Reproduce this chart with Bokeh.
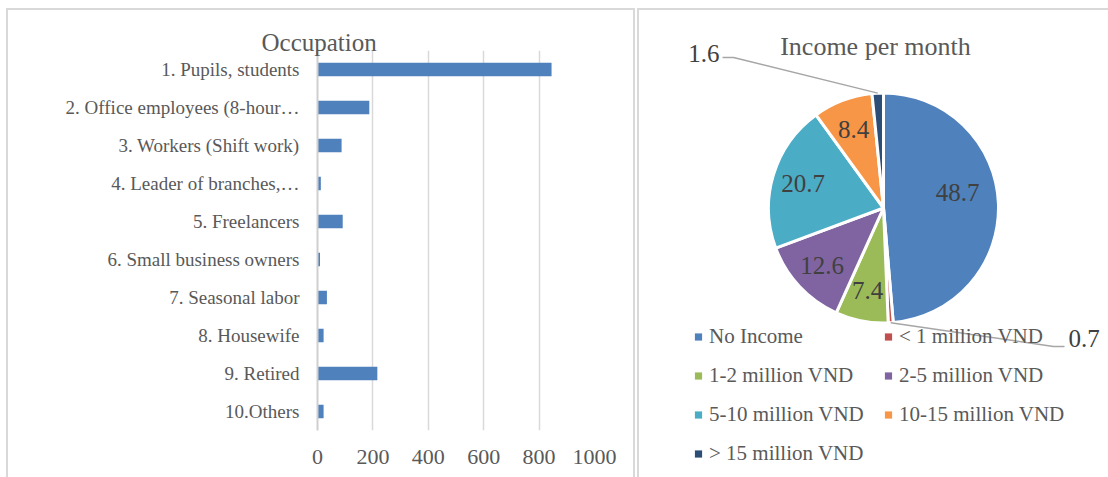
import math
from bokeh.plotting import figure
from bokeh.models import (Range1d, FactorRange, Label, FixedTicker,
                          Legend, LegendItem, ColumnDataSource)
from bokeh.layouts import row, column
from bokeh.embed import file_html
from bokeh.resources import INLINE

# ---------------- data ----------------
occupations = ["1. Pupils, students", "2. Office employees (8-hour\u2026",
               "3. Workers (Shift work)", "4. Leader of branches,\u2026",
               "5. Freelancers", "6. Small business owners", "7. Seasonal labor",
               "8. Housewife", "9. Retired", "10.Others"]
counts = [845, 187, 87, 12, 91, 9, 34, 22, 216, 22]
x_ticks = [0, 200, 400, 600, 800, 1000]

income_groups = ["No Income", "< 1 million VND", "1-2 million VND", "2-5 million VND",
                 "5-10 million VND", "10-15 million VND", "> 15 million VND"]
income_pct = [48.7, 0.7, 7.4, 12.6, 20.7, 8.4, 1.6]
income_colors = ["#4f81bd", "#c0504d", "#9bbb59", "#8064a2", "#4bacc6", "#f79646", "#2c4d75"]

FONT = "Liberation Serif"
TXT = "#595959"
BORDER = "#d9d9d9"

# ---------------- left panel: bar chart ----------------
p1 = figure(width=625, height=467, x_range=Range1d(0, 1000),
            y_range=FactorRange(factors=list(reversed(occupations))),
            output_backend="svg", toolbar_location=None,
            min_border_left=309, min_border_right=39, min_border_top=40, min_border_bottom=47)
p1.hbar(y=occupations, right=counts, height=0.36, fill_color="#4f81bd", line_color=None)
p1.outline_line_color = None
p1.ygrid.grid_line_color = None
p1.xgrid.grid_line_color = BORDER
p1.xgrid.grid_line_width = 1.5
p1.xaxis.ticker = FixedTicker(ticks=x_ticks)
p1.xgrid.ticker = FixedTicker(ticks=x_ticks)
p1.xaxis.axis_line_color = None
p1.xaxis.major_tick_line_color = None
p1.xaxis.minor_tick_line_color = None
p1.xaxis.major_label_standoff = 13
p1.xaxis.major_label_text_font = FONT
p1.xaxis.major_label_text_font_size = "22px"
p1.xaxis.major_label_text_color = TXT
p1.yaxis.axis_line_color = "#cfcfcf"
p1.yaxis.axis_line_width = 2
p1.yaxis.major_tick_line_color = None
p1.yaxis.minor_tick_line_color = None
p1.yaxis.major_label_standoff = 12
p1.yaxis.major_label_text_font = FONT
p1.yaxis.major_label_text_font_size = "19px"
p1.yaxis.major_label_text_color = TXT
p1.title.text = "Occupation"
p1.title.align = "left"
p1.title.offset = -56
p1.title.standoff = -10
p1.title.text_font = FONT
p1.title.text_font_size = "25px"
p1.title.text_font_style = "normal"
p1.title.text_color = TXT

left = column(p1, margin=(8, 0, 0, 6),
              styles={"border-top": f"2px solid {BORDER}", "border-left": f"2px solid {BORDER}",
                      "border-right": f"2px solid {BORDER}", "box-sizing": "content-box"})

# ---------------- right panel: pie chart ----------------
W2, H2 = 469, 467
p2 = figure(width=W2, height=H2, x_range=Range1d(0, W2), y_range=Range1d(0, H2),
            x_axis_type=None, y_axis_type=None, min_border=0,
            output_backend="svg", toolbar_location=None)
p2.grid.visible = False
p2.outline_line_color = None

cx, cy, R = 244, 269.5, 115
total = sum(income_pct)
starts, ends, mids = [], [], []
cum = 0.0
for v in income_pct:
    a0 = math.pi / 2 - cum / total * 2 * math.pi
    cum += v
    a1 = math.pi / 2 - cum / total * 2 * math.pi
    starts.append(a0); ends.append(a1); mids.append((a0 + a1) / 2)

src = ColumnDataSource(dict(start=starts, end=ends, color=income_colors, name=income_groups))
p2.wedge(x=cx, y=cy, radius=R, start_angle="start", end_angle="end", direction="clock",
         fill_color="color", line_color="white", line_width=3, source=src)

# inside labels
lab_x, lab_y, lab_t = [], [], []
for v, m in zip(income_pct, mids):
    if v >= 5:
        f = 0.66 if v > 40 else 0.73
        lab_x.append(cx + f * R * math.cos(m + (0.17 if v > 40 else 0)))
        lab_y.append(cy + f * R * math.sin(m + (0.17 if v > 40 else 0)))
        lab_t.append(f"{v}")
p2.text(x=lab_x, y=lab_y, text=lab_t, text_align="center", text_baseline="middle",
        text_font={"value": FONT}, text_font_size="25px", text_color="#404040")

# outside labels with leader lines (positions are layout offsets)
outside = {6: dict(label=(80, 424, "right"), elbow=(94, 420), end=(83, 420)),
           1: dict(label=(429, 139, "left"), elbow=(414, 131), end=(425, 131))}
for i, cfg in outside.items():
    ex = cx + R * math.cos(mids[i])
    ey = cy + R * math.sin(mids[i])
    p2.line(x=[ex, cfg["elbow"][0], cfg["end"][0]], y=[ey, cfg["elbow"][1], cfg["end"][1]],
            line_color="#a6a6a6", line_width=1.5)
    lx, ly, al = cfg["label"]
    p2.add_layout(Label(x=lx, y=ly, text=f"{income_pct[i]}", text_align=al,
                        text_baseline="middle", text_font=FONT, text_font_size="25px",
                        text_color="#404040"))

p2.add_layout(Label(x=236, y=431, text="Income per month", text_align="center",
                    text_baseline="middle", text_font=FONT, text_font_size="26px",
                    text_color=TXT))

# legend swatches: zero-size square markers sharing the pie's data (visible only in legend)
sq = p2.scatter(x=cx, y=cy, size=0, marker="square", fill_color="color",
                line_color=None, source=src)

def make_legend(idx, loc):
    return Legend(items=[LegendItem(label=income_groups[i], renderers=[sq], index=i) for i in idx],
                  location=loc, orientation="vertical", glyph_width=18, glyph_height=39,
                  label_height=39, label_standoff=2, spacing=0, padding=0, margin=0,
                  border_line_color=None, background_fill_alpha=0,
                  label_text_font=FONT, label_text_font_size="21px", label_text_color=TXT)

p2.add_layout(make_legend([0, 2, 4, 6], (50, 4.5)))
p2.add_layout(make_legend([1, 3, 5], (240, 43.5)))

right = column(p2, margin=(8, 0, 0, 2),
               styles={"border-top": f"2px solid {BORDER}", "border-left": f"2px solid {BORDER}",
                       "box-sizing": "content-box"})

layout = row(left, right)
open("out.html", "w").write(file_html(layout, INLINE))
